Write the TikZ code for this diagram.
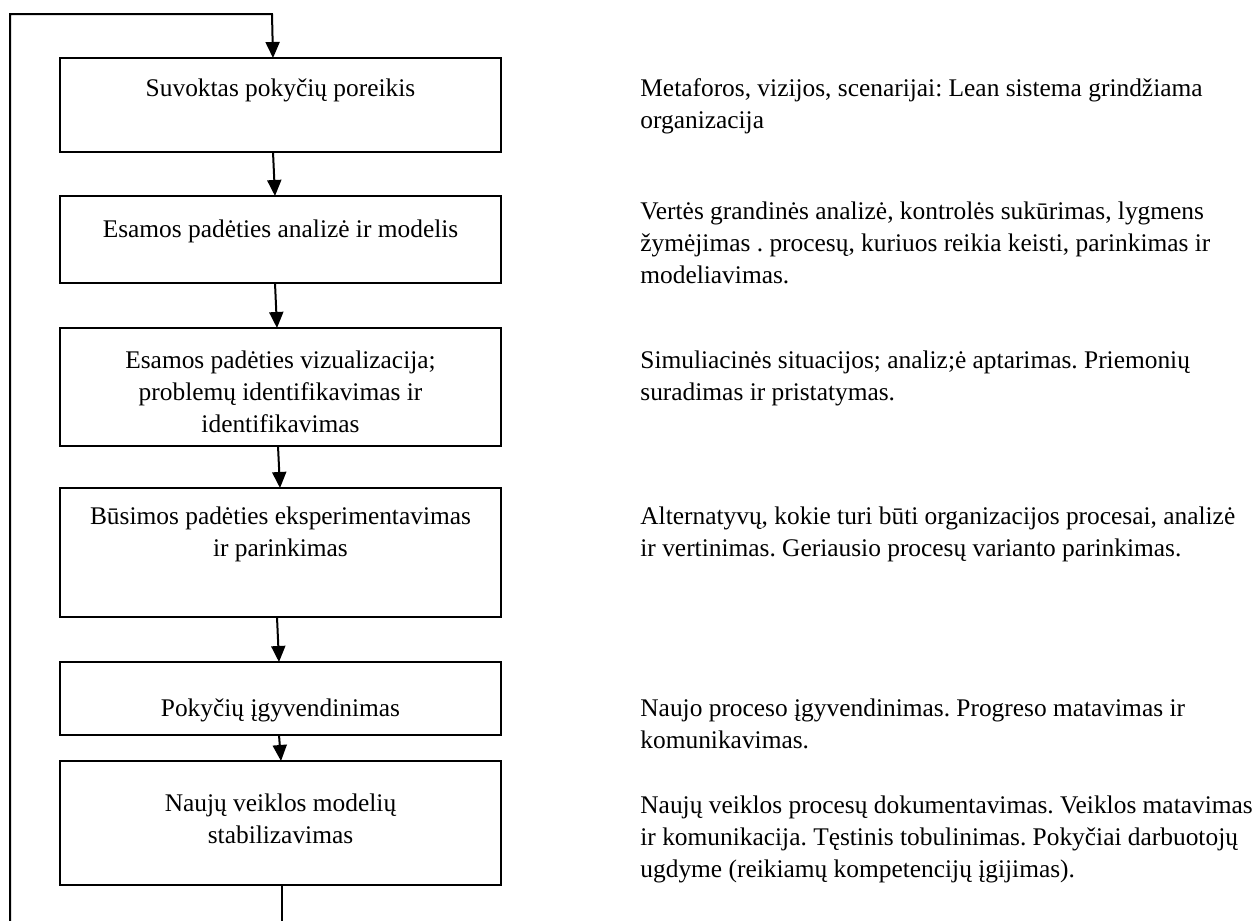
\documentclass[tikz,border=0pt]{standalone}
\usepackage{fontspec}
\setmainfont{Liberation Serif}
\usetikzlibrary{arrows.meta,calc}
\newcommand\topstrut{\rule{0pt}{12pt}}
\begin{document}
\frenchspacing
\begin{tikzpicture}[x=0.5pt,y=-0.5pt,
  box/.style={draw, line width=1pt, minimum width=220.5pt, inner sep=0pt, outer sep=0pt, anchor=north west},
  txt/.style={font=\fontsize{12.7}{16}\selectfont, inner sep=0pt, align=center, anchor=north},
  note/.style={font=\fontsize{12.7}{16}\selectfont, inner sep=0pt, align=left, anchor=north west},
  arr/.style={line width=1pt, -{Triangle[length=8pt,width=7pt]}},
  lin/.style={line width=1pt}]
\useasboundingbox (0,0) rectangle (1254,921);
% boxes
\node[box, minimum height=47pt]   (b1) at (60,58)  {};
\node[box, minimum height=43.5pt] (b2) at (60,196) {};
\node[box, minimum height=59pt]   (b3) at (60,328) {};
\node[box, minimum height=64.5pt] (b4) at (60,488) {};
\node[box, minimum height=36.5pt] (b5) at (60,662) {};
\node[box, minimum height=62pt]   (b6) at (60,761) {};
% box texts
\node[txt] (t1) at (280.5,72)  {\topstrut Suvoktas pokyčių poreikis};
\node[txt] (t2) at (280.5,213) {\topstrut Esamos padėties analizė ir modelis};
\node[txt] (t3) at (280.5,344) {\topstrut Esamos padėties vizualizacija;\\problemų identifikavimas ir\\identifikavimas};
\node[txt] (t4) at (280.5,500) {\topstrut Būsimos padėties eksperimentavimas\\ir parinkimas};
\node[txt] (t5) at (280.5,692) {\topstrut Pokyčių įgyvendinimas};
\node[txt] (t6) at (280.5,787) {\topstrut Naujų veiklos modelių\\stabilizavimas};
% notes
\node[note] (n1) at (640,72)  {\topstrut Metaforos, vizijos, scenarijai: Lean sistema grindžiama\\organizacija};
\node[note] (n2) at (640,195) {\topstrut Vertės grandinės analizė, kontrolės sukūrimas, lygmens\\žymėjimas . procesų, kuriuos reikia keisti, parinkimas ir\\modeliavimas.};
\node[note] (n3) at (640,344) {\topstrut Simuliacinės situacijos; analiz;ė aptarimas. Priemonių\\suradimas ir pristatymas.};
\node[note] (n4) at (640,500) {\topstrut Alternatyvų, kokie turi būti organizacijos procesai, analizė\\ir vertinimas. Geriausio procesų varianto parinkimas.};
\node[note] (n5) at (640,692) {\topstrut Naujo proceso įgyvendinimas. Progreso matavimas ir\\komunikavimas.};
\node[note] (n6) at (640,789) {\topstrut Naujų veiklos procesų dokumentavimas. Veiklos matavimas\\ir komunikacija. Tęstinis tobulinimas. Pokyčiai darbuotojų\\ugdyme (reikiamų kompetencijų įgijimas).};
% connectors
\coordinate (lb) at (10,921);
\coordinate (bb) at (282,921);
\draw[arr] (lb) |- ($(b1.north west)+(212,-44)$) -- ($(b1.north west)+(213,0)$);
\draw[arr] ($(b1.south west)+(213,0)$) -- ($(b2.north west)+(215,0)$);
\draw[arr] ($(b2.south west)+(215,0)$) -- ($(b3.north west)+(217,0)$);
\draw[arr] ($(b3.south west)+(218,0)$) -- ($(b4.north west)+(220,0)$);
\draw[arr] ($(b4.south west)+(217,0)$) -- ($(b5.north west)+(219,0)$);
\draw[arr] ($(b5.south west)+(219,0)$) -- ($(b6.north west)+(221,0)$);
\draw[lin] ($(b6.south west)+(222,0)$) -- (bb);
\end{tikzpicture}
\end{document}
